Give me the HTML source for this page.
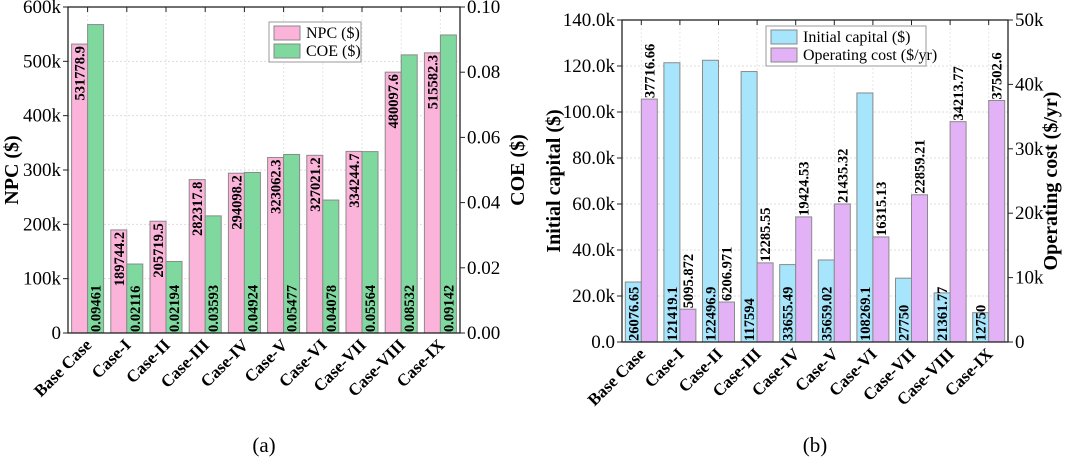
<!DOCTYPE html>
<html><head><meta charset="utf-8"><style>
body{margin:0;background:#fff;width:1065px;height:464px;overflow:hidden}
svg,svg text{font-family:"Liberation Serif","DejaVu Serif",serif}
</style></head><body>
<svg id="s" width="1065" height="464" font-family="Liberation Serif, serif"></svg>
<script>
const categories=["Base Case","Case-I","Case-II","Case-III","Case-IV","Case-V","Case-VI","Case-VII","Case-VIII","Case-IX"];
const npcValues=[531778.9,189744.2,205719.5,282317.8,294098.2,323062.3,327021.2,334244.7,480097.6,515582.3];
const coeValues=[0.09461,0.02116,0.02194,0.03593,0.04924,0.05477,0.04078,0.05564,0.08532,0.09142];
const npcLabels=["531778.9","189744.2","205719.5","282317.8","294098.2","323062.3","327021.2","334244.7","480097.6","515582.3"];
const coeLabels=["0.09461","0.02116","0.02194","0.03593","0.04924","0.05477","0.04078","0.05564","0.08532","0.09142"];
const icValues=[26076.65,121419.1,122496.9,117594,33655.49,35659.02,108269.1,27750,21361.77,12750];
const ocValues=[37716.66,5095.872,6206.971,12285.55,19424.53,21435.32,16315.13,22859.21,34213.77,37502.6];
const icLabels=["26076.65","121419.1","122496.9","117594","33655.49","35659.02","108269.1","27750","21361.77","12750"];
const ocLabels=["37716.66","5095.872","6206.971","12285.55","19424.53","21435.32","16315.13","22859.21","34213.77","37502.6"];
const npcTicks=[0,100000,200000,300000,400000,500000,600000];
const npcTickLabels=["0","100k","200k","300k","400k","500k","600k"];
const coeTicks=[0,0.02,0.04,0.06,0.08,0.10];
const coeTickLabels=["0.00","0.02","0.04","0.06","0.08","0.10"];
const icTicks=[0,20000,40000,60000,80000,100000,120000,140000];
const icTickLabels=["0.0","20.0k","40.0k","60.0k","80.0k","100.0k","120.0k","140.0k"];
const ocTicks=[0,10000,20000,30000,40000,50000];
const ocTickLabels=["0","10k","20k","30k","40k","50k"];

const S=document.getElementById('s');const NS="http://www.w3.org/2000/svg";
const FF='"Liberation Serif", serif';
function mk(t,a,p){const e=document.createElementNS(NS,t);for(const k in a)e.setAttribute(k,a[k]);if(t==='text')e.style.fontFamily=FF;(p||S).appendChild(e);return e;}

function chart(o){
  const g=mk('g',{});
  
  
  const x0=o.x0,x1=o.x1,yT=o.yT,yB=o.yB,n=categories.length,step=(x1-x0)/n,bw=16;
  const yL=v=>yB-(v/o.lMax)*(yB-yT), yR=v=>yB-(v/o.rMax)*(yB-yT);
  o.lTicks.forEach(t=>{if(t>0&&t<o.lMax){const l=mk('line',{x1:x0,x2:x1,y1:yL(t),y2:yL(t),stroke:'#ddd','stroke-dasharray':'2,2'},g);}});
  for(let i=0;i<n;i++){const cx=x0+step*(i+0.5);const l=mk('line',{x1:cx,x2:cx,y1:yT,y2:yB,stroke:'#e6e6e6','stroke-dasharray':'2,2'},g);}
  categories.forEach((c,i)=>{
    const cx=x0+step*(i+0.5);
    const a=o.lVals[i],b=o.rVals[i];
    const r1=mk('rect',{x:cx-bw,y:yL(a),width:bw,height:yB-yL(a),fill:o.c1,stroke:'#8a8a8a','stroke-width':1},g);
    
    const r2=mk('rect',{x:cx,y:yR(b),width:bw,height:yB-yR(b),fill:o.c2,stroke:'#8a8a8a','stroke-width':1},g);
    
    let lx=cx-bw/2+5,ly,anc;
    if(o.l1Mode==='topin'){ly=yL(a)+2;anc='end';}else{ly=yB-1;anc='start';}
    const t1=mk('text',{x:lx,y:ly,transform:`rotate(-90 ${lx} ${ly})`,'text-anchor':anc,'font-size':14.5,'font-weight':'bold'},g);
    t1.textContent=o.l1Labels[i];
    let mx=cx+bw/2+5,my,anc2;
    if(o.l2Mode==='bottomin'){my=yB-1;anc2='start';}else{my=yR(b)-1;anc2='start';}
    const t2=mk('text',{x:mx,y:my,transform:`rotate(-90 ${mx} ${my})`,'text-anchor':anc2,'font-size':14.5,'font-weight':'bold'},g);
    t2.textContent=o.l2Labels[i];
    mk('line',{x1:cx,x2:cx,y1:yT,y2:yT+5,stroke:'#222'},g);
    const xt=mk('text',{x:cx+5,y:yB+13,transform:`rotate(-45 ${cx+5} ${yB+13})`,'text-anchor':'end','font-size':17,'font-weight':'bold'},g);
    xt.textContent=c;
  });
  mk('rect',{x:x0,y:yT,width:x1-x0,height:yB-yT,fill:'none',stroke:'#222','stroke-width':1.3},g);
  o.lTicks.forEach((t,i)=>{mk('line',{x1:x0-5,x2:x0,y1:yL(t),y2:yL(t),stroke:'#222'},g);
    const e=mk('text',{x:x0-7,y:yL(t)+6,'text-anchor':'end','font-size':19},g);e.textContent=o.lTL[i];});
  o.rTicks.forEach((t,i)=>{mk('line',{x1:x1,x2:x1+5,y1:yR(t),y2:yR(t),stroke:'#222'},g);
    const e=mk('text',{x:x1+7,y:yR(t)+6,'text-anchor':'start','font-size':19},g);e.textContent=o.rTL[i];});
  const cy=(yT+yB)/2;
  const a1=mk('text',{x:o.ltx,y:cy,transform:`rotate(-90 ${o.ltx} ${cy})`,'text-anchor':'middle','font-size':20,'font-weight':'bold'},g);a1.textContent=o.lTitle;
  const a2=mk('text',{x:o.rtx,y:cy,transform:`rotate(-90 ${o.rtx} ${cy})`,'text-anchor':'middle','font-size':20,'font-weight':'bold'},g);a2.textContent=o.rTitle;
  const L=o.leg;const lg=mk('g',{},g);
  mk('rect',{x:L.x,y:L.y,width:L.w,height:40,fill:'#fff',stroke:'#999'},lg);
  [[o.c1,o.n1],[o.c2,o.n2]].forEach((d,i)=>{
    mk('rect',{x:L.x+5,y:L.y+4+i*18,width:26,height:14,fill:d[0],stroke:'#888'},lg);
    const t=mk('text',{x:L.x+37,y:L.y+16+i*18,'font-size':16},lg);t.textContent=d[1];
  });
  const cap=mk('text',{x:(x0+x1)/2,y:452,'text-anchor':'middle','font-size':21},g);cap.textContent=o.cap;
}
chart({name:'chart-a',x0:68,x1:460,yT:7,yB:333,lMax:600000,rMax:0.10,lVals:npcValues,rVals:coeValues,
 c1:'#fbb3da',c2:'#7fd99e',s1:'npc',s2:'coe',n1:'NPC ($)',n2:'COE ($)',l1Labels:npcLabels,l2Labels:coeLabels,l1Mode:'topin',l2Mode:'bottomin',
 lTicks:npcTicks,lTL:npcTickLabels,rTicks:coeTicks,rTL:coeTickLabels,ltx:18,rtx:524,lTitle:'NPC ($)',rTitle:'COE ($)',leg:{x:269,y:22,w:92},cap:'(a)'});
chart({name:'chart-b',x0:622,x1:1008,yT:20,yB:342,lMax:140000,rMax:50000,lVals:icValues,rVals:ocValues,
 c1:'#a6e5fb',c2:'#e3b1f5',s1:'initial-capital',s2:'operating-cost',n1:'Initial capital ($)',n2:'Operating cost ($/yr)',l1Labels:icLabels,l2Labels:ocLabels,l1Mode:'bottomin',l2Mode:'above',
 lTicks:icTicks,lTL:icTickLabels,rTicks:ocTicks,rTL:ocTickLabels,ltx:560,rtx:1057,lTitle:'Initial capital ($)',rTitle:'Operating cost ($/yr)',leg:{x:766,y:26,w:160},cap:'(b)'});
</script>
</body></html>
